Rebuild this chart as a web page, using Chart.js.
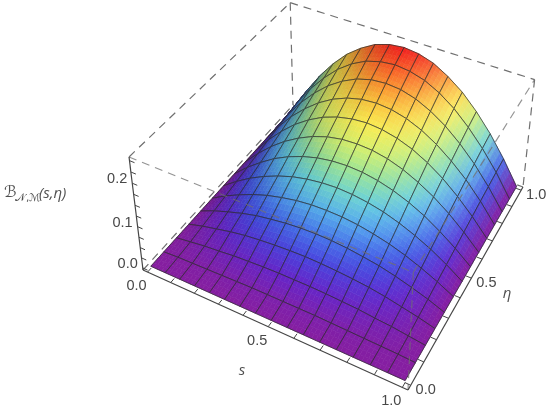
<!DOCTYPE html>
<html>
<head>
<meta charset="UTF-8">
<title>Surface</title>
<style>
  html, body { margin: 0; padding: 0; background: #fff; }
  canvas { display: block; }
</style>
<script src="https://cdn.jsdelivr.net/npm/chart.js@4"></script>
</head>
<body>
<canvas id="chart" width="550" height="413"></canvas>
<script>
var sValues = [0, 0.0625, 0.125, 0.1875, 0.25, 0.3125, 0.375, 0.4375, 0.5, 0.5625, 0.625, 0.6875, 0.75, 0.8125, 0.875, 0.9375, 1];
var etaValues = [0, 0.077, 0.154, 0.231, 0.308, 0.385, 0.462, 0.538, 0.615, 0.692, 0.769, 0.846, 0.923, 1];
// one row per eta value
var zRows = [
  [0,0,0,0,0,0,0,0,0,0,0,0,0,0,0,0,0],
  [0,.002,.003,.004,.005,.006,.007,.007,.007,.007,.007,.006,.005,.004,.003,.002,0],
  [0,.005,.010,.013,.017,.019,.021,.022,.022,.022,.021,.019,.017,.013,.010,.005,0],
  [0,.010,.018,.026,.032,.036,.039,.041,.042,.041,.039,.036,.032,.026,.018,.010,0],
  [0,.015,.027,.038,.047,.053,.058,.061,.062,.061,.058,.053,.047,.038,.027,.015,0],
  [0,.020,.037,.052,.064,.073,.080,.084,.085,.084,.080,.073,.064,.052,.037,.020,0],
  [0,.025,.047,.065,.080,.092,.100,.105,.107,.105,.100,.092,.080,.065,.047,.025,0],
  [0,.030,.056,.079,.097,.111,.121,.127,.129,.127,.121,.111,.097,.079,.056,.030,0],
  [0,.035,.066,.092,.113,.130,.142,.149,.151,.149,.142,.130,.113,.092,.066,.035,0],
  [0,.040,.075,.105,.129,.148,.161,.169,.172,.169,.161,.148,.129,.105,.075,.040,0],
  [0,.045,.084,.116,.143,.164,.179,.188,.191,.188,.179,.164,.143,.116,.084,.045,0],
  [0,.049,.092,.128,.158,.181,.198,.208,.211,.208,.198,.181,.158,.128,.092,.049,0],
  [0,.054,.100,.139,.172,.197,.215,.225,.229,.225,.215,.197,.172,.139,.100,.054,0],
  [0,.057,.107,.149,.184,.210,.230,.241,.245,.241,.230,.210,.184,.149,.107,.057,0]
];
var sTicks = [0, 0.1, 0.2, 0.3, 0.4, 0.5, 0.6, 0.7, 0.8, 0.9, 1];
var etaTicks = [0, 0.1, 0.2, 0.3, 0.4, 0.5, 0.6, 0.7, 0.8, 0.9, 1];
var zTicks = [0, 0.025, 0.05, 0.075, 0.1, 0.125, 0.15, 0.175, 0.2, 0.225, 0.25];
var sLabels = [0, 0.5, 1];
var etaLabels = [0, 0.5, 1];
var zLabels = [0, 0.1, 0.2];
var rampColors = [
  [134,30,160], [98,38,205], [62,80,228], [78,150,240], [95,205,225], [145,225,155],
  [210,240,110], [250,235,80], [250,185,55], [250,110,40], [240,30,30]
];

// box limits including the plot padding
var sRange = [-0.02, 1.02];
var etaRange = [-0.02, 1.02];
var zRange = [-0.005, 0.258];

// camera matrix, box coordinates to picture coordinates
var viewX = [222.32, 209.92, -22.5, 143];
var viewY = [79.2, -143.53, -123.4, 270];
var viewW = [-0.1046, 0.2045, -0.066, 1];

function boxCoord(v, r) { return (v - r[0]) / (r[1] - r[0]); }

function projectBox(u, v, w) {
  var d = viewW[0]*u + viewW[1]*v + viewW[2]*w + viewW[3];
  return {
    x: (viewX[0]*u + viewX[1]*v + viewX[2]*w + viewX[3]) / d,
    y: (viewY[0]*u + viewY[1]*v + viewY[2]*w + viewY[3]) / d
  };
}

function project(s, eta, z) {
  return projectBox(boxCoord(s, sRange), boxCoord(eta, etaRange), boxCoord(z, zRange));
}

function mix(a, b, t) { return a + (b - a) * t; }

function nodeColor(i, j) {
  var row = zRows[j];
  var t = row[i] / 0.245 * (rampColors.length - 1);
  var k = Math.min(Math.floor(t), rampColors.length - 2);
  var f = t - k;
  // left side turned away from the light is darker, right side a bit paler
  var a = Math.max(i - 1, 0), b = Math.min(i + 1, row.length - 1);
  var slope = (row[b] - row[a]) / (sValues[b] - sValues[a]) / (zRange[1] - zRange[0]);
  var shade = 1 - 0.12 * Math.max(0, slope);
  var pale = 0.09 * Math.min(Math.max(0, -slope), 1.5) * Math.min(row[i] / 0.1, 1);
  return [0, 1, 2].map(function(c) {
    return mix(mix(rampColors[k][c], rampColors[k+1][c], f) * shade, 255, pale);
  });
}

var datasets = [];
function addLine(points, color, width, dash, cell) {
  datasets.push({
    data: points,
    showLine: true,
    pointRadius: 0,
    tension: 0,
    fill: false,
    borderColor: color,
    borderWidth: width,
    borderDash: dash || [],
    cell: cell || null,
    order: 100000 - datasets.length
  });
}

var corner = {
  a0: [0,0,0], b0: [0,1,0], c0: [1,1,0], d0: [1,0,0],
  a1: [0,0,1], b1: [0,1,1], c1: [1,1,1], d1: [1,0,1]
};
function edge(p, q) {
  return [projectBox.apply(null, corner[p]), projectBox.apply(null, corner[q])];
}

var dashStyle = [8, 6];

// back of the box, under the surface
[['a1','b1'], ['b1','c1'], ['b1','b0'], ['c1','c0'], ['a0','b0'], ['b0','c0']].forEach(function(e) {
  addLine(edge(e[0], e[1]), '#707070', 1.2, dashStyle);
});

// surface cells, far ones first
for (var j = etaValues.length - 2; j >= 0; j--) {
  for (var i = 0; i < sValues.length - 1; i++) {
    addLine([
      project(sValues[i], etaValues[j], zRows[j][i]),
      project(sValues[i+1], etaValues[j], zRows[j][i+1]),
      project(sValues[i+1], etaValues[j+1], zRows[j+1][i+1]),
      project(sValues[i], etaValues[j+1], zRows[j+1][i]),
      project(sValues[i], etaValues[j], zRows[j][i])
    ], 'rgba(45,45,45,0.72)', 1, null, { i: i, j: j });
  }
}

// front of the box, over the surface
[['a1','d1'], ['d1','c1'], ['d1','d0']].forEach(function(e) {
  addLine(edge(e[0], e[1]), 'rgba(112,112,112,0.75)', 1.2, dashStyle);
});

// the three drawn axes
var axisColor = '#454545';
addLine(edge('a0','a1'), axisColor, 1.2);
addLine(edge('a0','d0'), axisColor, 1.2);
addLine(edge('d0','c0'), axisColor, 1.2);

var tickMarks = [];
function addTick(p, q) { tickMarks.push(p, q, { x: NaN, y: NaN }); }
sTicks.forEach(function(t) {
  var u = boxCoord(t, sRange);
  addTick(projectBox(u, 0, 0), projectBox(u, 0.02, 0));
});
etaTicks.forEach(function(t) {
  var v = boxCoord(t, etaRange);
  addTick(projectBox(1, v, 0), projectBox(0.98, v, 0));
});
zTicks.forEach(function(t) {
  var w = boxCoord(t, zRange);
  addTick(projectBox(0, 0, w), projectBox(0.02, 0, w));
});
addLine(tickMarks, axisColor, 1);

// paints a cell under its mesh outline, blending the four corner colours
var cellFill = {
  id: 'cellFill',
  beforeDatasetDraw: function(chart, args) {
    var cell = chart.data.datasets[args.index].cell;
    if (!cell) return;
    var pts = args.meta.data;
    var c = [nodeColor(cell.i, cell.j), nodeColor(cell.i+1, cell.j), nodeColor(cell.i+1, cell.j+1), nodeColor(cell.i, cell.j+1)];
    var ctx = chart.ctx;
    function at(a, b) {
      return {
        x: mix(mix(pts[0].x, pts[1].x, a), mix(pts[3].x, pts[2].x, a), b),
        y: mix(mix(pts[0].y, pts[1].y, a), mix(pts[3].y, pts[2].y, a), b)
      };
    }
    var n = 4;
    ctx.save();
    ctx.lineWidth = 0.6;
    for (var p = 0; p < n; p++) {
      for (var q = 0; q < n; q++) {
        var a = (p + 0.5) / n, b = (q + 0.5) / n;
        var rgb = [0, 1, 2].map(function(k) {
          return Math.round(mix(mix(c[0][k], c[1][k], a), mix(c[3][k], c[2][k], a), b));
        });
        var col = 'rgb(' + rgb.join(',') + ')';
        var p0 = at(p/n, q/n), p1 = at((p+1)/n, q/n), p2 = at((p+1)/n, (q+1)/n), p3 = at(p/n, (q+1)/n);
        ctx.beginPath();
        ctx.moveTo(p0.x, p0.y);
        ctx.lineTo(p1.x, p1.y);
        ctx.lineTo(p2.x, p2.y);
        ctx.lineTo(p3.x, p3.y);
        ctx.closePath();
        ctx.fillStyle = col;
        ctx.strokeStyle = col;
        ctx.fill();
        ctx.stroke();
      }
    }
    ctx.restore();
  }
};

var axisText = {
  id: 'axisText',
  afterDatasetsDraw: function(chart) {
    var ctx = chart.ctx;
    var sx = chart.scales.x, sy = chart.scales.y;
    function put(text, p, dx, dy, align, font, color) {
      ctx.font = font;
      ctx.textAlign = align;
      ctx.textBaseline = 'middle';
      ctx.fillStyle = color;
      ctx.fillText(text, sx.getPixelForValue(p.x) + dx, sy.getPixelForValue(p.y) + dy);
    }
    var tickFont = '14.5px "Liberation Sans"';
    var tickColor = '#484848';
    zLabels.forEach(function(t) {
      put(t.toFixed(1), projectBox(0, 0, boxCoord(t, zRange)), -5, -4, 'right', tickFont, tickColor);
    });
    sLabels.forEach(function(t) {
      put(t.toFixed(1), projectBox(boxCoord(t, sRange), 0, 0), -11, 14, 'center', tickFont, tickColor);
    });
    etaLabels.forEach(function(t) {
      put(t.toFixed(1), projectBox(1, boxCoord(t, etaRange), 0), 15, 5, 'center', tickFont, tickColor);
    });
    var titleColor = '#505050';
    var titleFont = 'italic 15px "Open Sans"';
    put('s', { x: 242, y: 371 }, 0, 0, 'center', titleFont, titleColor);
    put('\u03B7', { x: 507, y: 294 }, 0, 0, 'center', titleFont, titleColor);
    put('\u212C', { x: 4, y: 193 }, 0, 0, 'left', '16px "DejaVu Sans"', titleColor);
    put('\uD835\uDCA9,\u2133', { x: 15, y: 198 }, 0, 0, 'left', '10.5px "DejaVu Sans"', titleColor);
    put('(s,\u03B7)', { x: 39, y: 194 }, 0, 0, 'left', titleFont, titleColor);
  }
};

new Chart(document.getElementById('chart'), {
  type: 'scatter',
  data: { datasets: datasets },
  options: {
    responsive: false,
    animation: false,
    layout: { padding: 0 },
    plugins: { legend: { display: false }, tooltip: { enabled: false } },
    scales: {
      x: { type: 'linear', display: false, min: 0, max: 550 },
      y: { type: 'linear', display: false, min: 0, max: 413, reverse: true }
    }
  },
  plugins: [cellFill, axisText]
});
</script>
</body>
</html>
